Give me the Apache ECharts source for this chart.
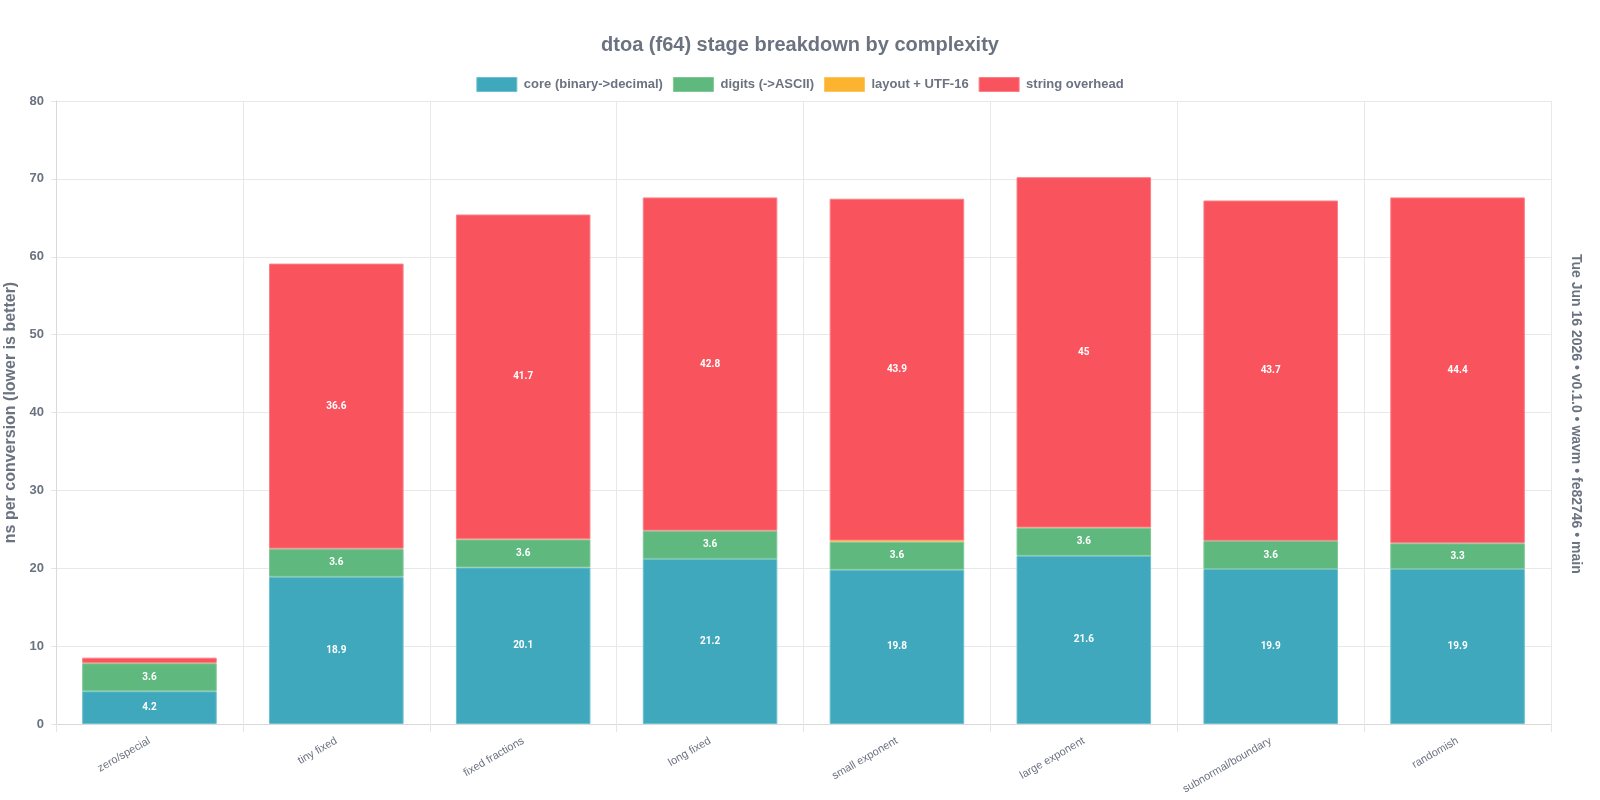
<!DOCTYPE html>
<html><head><meta charset="utf-8">
<script src="https://cdn.jsdelivr.net/npm/echarts@6/dist/echarts.min.js"></script>
<style>html,body{margin:0;padding:0;background:#fff}#c{width:1600px;height:800px}</style>
</head><body><div id="c"></div>
<script>
const categories = ["zero/special","tiny fixed","fixed fractions","long fixed","small exponent","large exponent","subnormal/boundary","randomish"];
const coreVals = [4.2,18.9,20.1,21.2,19.8,21.6,19.9,19.9];
const digitsVals = [3.6,3.6,3.6,3.6,3.6,3.6,3.6,3.3];
const layoutVals = [0.02,0.02,0.02,0.02,0.15,0.02,0.02,0.02];
const stringVals = [0.7,36.6,41.7,42.8,43.9,45,43.7,44.4];
const seriesNames = ["core (binary->decimal)","digits (->ASCII)","layout + UTF-16","string overhead"];
const yTicks = [0,10,20,30,40,50,60,70,80];

const colors = ["#3fa8bc","#5fb97e","#fbb330","#f9535d"];
const borders = ["#6cc0cf","#7fc896","#fcc55f","#fb7f86"];
const borderW = [1,1,0,1];
const allVals = [coreVals,digitsVals,layoutVals,stringVals];
const textCol = "#6b7280";
const ff = 'Liberation Sans, Arial';

const chart = echarts.init(document.getElementById('c'));
chart.setOption({
  animation:false,
  title:{text:"dtoa (f64) stage breakdown by complexity",left:'center',top:30,
    textStyle:{fontFamily:ff,fontSize:20,fontWeight:'bold',color:textCol}},
  legend:{top:72,left:'center',itemWidth:40,itemHeight:14,itemGap:10,icon:'rect',
    textStyle:{fontFamily:ff,fontSize:13,fontWeight:'bold',color:textCol,padding:[0,0,0,2]},
    data:seriesNames.map((n,i)=>({name:n,itemStyle:{color:colors[i],borderColor:borders[i],borderWidth:1}}))},
  grid:{left:56,right:49,top:101,bottom:76,containLabel:false,outerBoundsMode:'none'},
  xAxis:{type:'category',data:categories,boundaryGap:true,
    axisLine:{lineStyle:{color:'#d9d9d9'}},
    axisTick:{show:true,length:8,lineStyle:{color:'#e5e5e5'}},
    splitLine:{show:true,lineStyle:{color:'#e8e8e8'}},
    axisLabel:{rotate:30,fontFamily:ff,fontSize:11,color:textCol,margin:16}},
  yAxis:{type:'value',min:0,max:80,interval:10,
    name:"ns per conversion (lower is better)",nameLocation:'middle',nameGap:33,
    nameTextStyle:{fontFamily:ff,fontSize:16,fontWeight:'bold',color:textCol},
    axisLine:{show:true,lineStyle:{color:'#d9d9d9'}},
    axisTick:{show:true,length:5,lineStyle:{color:'#e5e5e5'}},
    splitLine:{lineStyle:{color:'#e8e8e8'}},
    axisLabel:{fontFamily:ff,fontSize:13,fontWeight:'bold',color:textCol,margin:12,
      formatter:v=>yTicks.includes(v)?String(v):''}},
  graphic:[{type:'text',left:1569,top:254,rotation:-Math.PI/2,
    style:{text:"Tue Jun 16 2026 • v0.1.0 • wavm • fe82746 • main",fontFamily:ff,
      fontSize:14,fontWeight:'bold',fill:textCol}}],
  series:seriesNames.map((n,i)=>({name:n,type:'bar',stack:'total',barWidth:'72%',data:allVals[i],
    itemStyle:{color:colors[i],borderColor:borders[i],borderWidth:borderW[i]},
    label:{show:true,position:'inside',color:'#fff',fontFamily:'Roboto, Liberation Sans',fontSize:10,fontWeight:'bold',
      formatter:p=>p.value>=1.5?String(p.value):''}}))
});
</script></body></html>
